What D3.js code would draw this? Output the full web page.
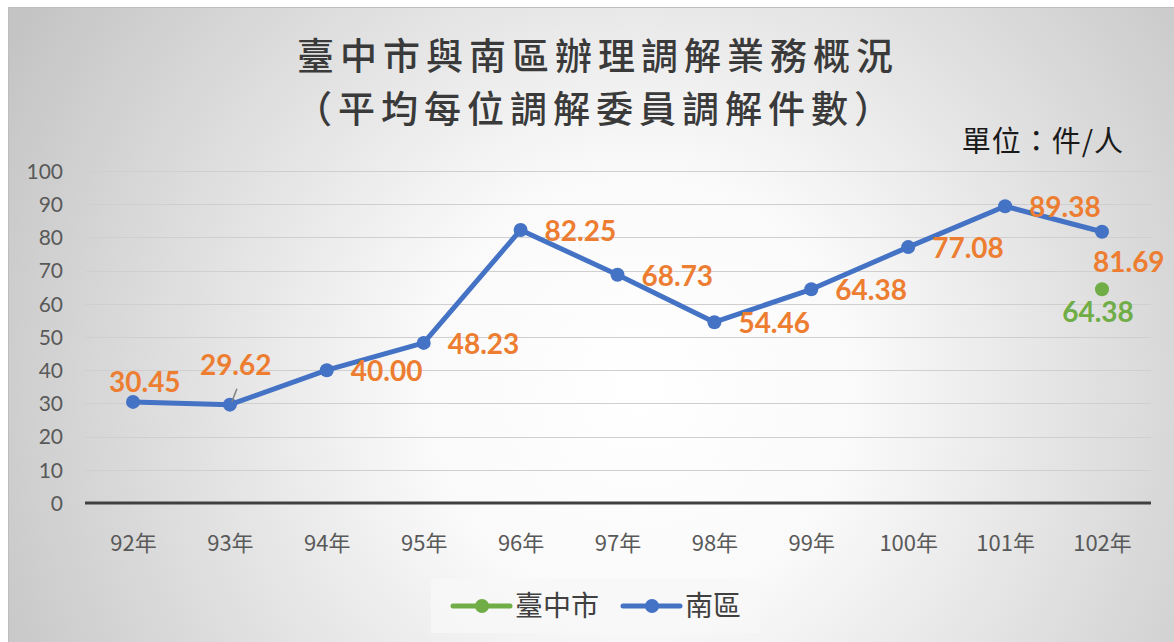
<!DOCTYPE html>
<html>
<head>
<meta charset="utf-8">
<script src="https://cdn.jsdelivr.net/npm/d3@7"></script>
<style>
  html, body { margin: 0; padding: 0; background: #fff; }
  svg { display: block; }
</style>
</head>
<body>
<svg id="chart" width="1174" height="642"></svg>
<script>
// data
const years = ["92年", "93年", "94年", "95年", "96年", "97年", "98年", "99年", "100年", "101年", "102年"];
const southValues = [30.45, 29.62, 40.00, 48.23, 82.25, 68.73, 54.46, 64.38, 77.08, 89.38, 81.69];
const cityValues = [null, null, null, null, null, null, null, null, null, null, 64.38];
const yTicks = [0, 10, 20, 30, 40, 50, 60, 70, 80, 90, 100];
const seriesNames = ["臺中市", "南區"];

const blue = "#4472C4", green = "#70AD47", orange = "#ED7D31";
const numFont = "Lato, 'Noto Sans', sans-serif";
const cjkFont = "'Noto Sans CJK TC', 'Noto Sans', sans-serif";

const svg = d3.select("#chart");
const W = 1174, H = 642;

// background
const defs = svg.append("defs");
const grad = defs.append("radialGradient")
    .attr("id", "bg")
    .attr("gradientUnits", "userSpaceOnUse")
    .attr("cx", 640).attr("cy", 390).attr("r", 720);
grad.append("stop").attr("offset", "0%").attr("stop-color", "#ffffff");
grad.append("stop").attr("offset", "30%").attr("stop-color", "#fafafa");
grad.append("stop").attr("offset", "100%").attr("stop-color", "#c4c4c4");

svg.append("rect").attr("width", W).attr("height", H).attr("fill", "#fff");
svg.append("rect")
    .attr("x", 8.5).attr("y", 7.5)
    .attr("width", W).attr("height", H)
    .attr("fill", "url(#bg)")
    .attr("stroke", "#bdbdbd");

// scales
const x = d3.scalePoint().domain(years).range([133, 1102]);
const y = d3.scaleLinear().domain([0, 100]).range([503, 171]);
const plotLeft = 85, plotRight = 1151;

// grid
svg.append("g").selectAll("line")
    .data(yTicks.filter(d => d > 0))
    .join("line")
    .attr("x1", plotLeft).attr("x2", plotRight)
    .attr("y1", d => Math.round(y(d)) + 0.5).attr("y2", d => Math.round(y(d)) + 0.5)
    .attr("stroke", "#cfcfcf").attr("stroke-width", 1);

// y axis labels
const yAxis = d3.axisLeft(y).tickValues(yTicks).tickSize(0).tickPadding(0);
const gy = svg.append("g").attr("transform", "translate(63,0)").call(yAxis);
gy.select(".domain").remove();
gy.selectAll("text")
    .attr("font-family", numFont).attr("font-size", 21)
    .attr("fill", "#595959").attr("dy", "0.35em");

// zero line
svg.append("line")
    .attr("x1", plotLeft).attr("x2", plotRight)
    .attr("y1", y(0)).attr("y2", y(0))
    .attr("stroke", "#404040").attr("stroke-width", 3);

// x axis labels
const xAxis = d3.axisBottom(x).tickSize(0).tickPadding(0);
const gx = svg.append("g").attr("transform", "translate(0,551)").call(xAxis);
gx.select(".domain").remove();
gx.selectAll("text")
    .attr("font-family", cjkFont).attr("font-size", 22)
    .attr("fill", "#595959").attr("dy", "0");

// line
const line = d3.line()
    .defined(d => d.v != null)
    .x(d => x(d.year))
    .y(d => y(d.v));
const south = years.map((yr, i) => ({ year: yr, v: southValues[i] }));
const city = years.map((yr, i) => ({ year: yr, v: cityValues[i] }));

svg.append("path").datum(south)
    .attr("d", line)
    .attr("fill", "none").attr("stroke", blue)
    .attr("stroke-width", 5).attr("stroke-linejoin", "round").attr("stroke-linecap", "round");

svg.append("g").selectAll("circle")
    .data(south)
    .join("circle")
    .attr("cx", d => x(d.year)).attr("cy", d => y(d.v))
    .attr("r", 7).attr("fill", blue);

svg.append("g").selectAll("circle")
    .data(city.filter(d => d.v != null))
    .join("circle")
    .attr("cx", d => x(d.year)).attr("cy", d => y(d.v))
    .attr("r", 7).attr("fill", green);

// data labels: default to the right of the point, some moved
const labelOffsets = {
    "92年": [-24, -10, "start"],
    "93年": [-30, -30, "start"],
    "102年": [-9, 40, "start"]
};
svg.append("g").selectAll("text")
    .data(south)
    .join("text")
    .attr("x", d => x(d.year) + (labelOffsets[d.year] ? labelOffsets[d.year][0] : 24))
    .attr("y", d => y(d.v) + (labelOffsets[d.year] ? labelOffsets[d.year][1] : 11))
    .attr("font-family", numFont).attr("font-weight", "bold").attr("font-size", 28)
    .attr("fill", orange)
    .text(d => d.v.toFixed(2));

// leader line for 93年
svg.append("line")
    .attr("x1", x("93年") + 2).attr("y1", y(29.62) - 3)
    .attr("x2", x("93年") + 7).attr("y2", y(29.62) - 16)
    .attr("stroke", "#7f7f7f").attr("stroke-width", 1.5);

svg.append("g").selectAll("text")
    .data(city.filter(d => d.v != null))
    .join("text")
    .attr("x", d => x(d.year) - 4)
    .attr("y", d => y(d.v) + 33)
    .attr("text-anchor", "middle")
    .attr("font-family", numFont).attr("font-weight", "bold").attr("font-size", 28)
    .attr("fill", green)
    .text(d => d.v.toFixed(2));

// title
const title = svg.append("g")
    .attr("font-family", cjkFont).attr("font-weight", 500)
    .attr("fill", "#3a3a3a").attr("text-anchor", "middle");
title.append("text").attr("x", 598).attr("y", 70)
    .attr("font-size", 37).attr("letter-spacing", 6)
    .text("臺中市與南區辦理調解業務概況");
title.append("text").attr("x", 596).attr("y", 123)
    .attr("font-size", 37).attr("letter-spacing", 6)
    .text("（平均每位調解委員調解件數）");

svg.append("text")
    .attr("x", 1124).attr("y", 152)
    .attr("text-anchor", "end")
    .attr("font-family", cjkFont).attr("font-size", 29)
    .attr("letter-spacing", 1)
    .attr("fill", "#1a1a1a")
    .text("單位：件/人");

// legend
const legend = svg.append("g");
legend.append("rect")
    .attr("x", 431).attr("y", 579).attr("width", 329).attr("height", 54)
    .attr("fill", "#f7f7f7").attr("opacity", 0.8);
const legendItems = legend.selectAll("g")
    .data(seriesNames)
    .join("g")
    .attr("transform", (d, i) => `translate(${[453, 623][i]},606)`);
legendItems.append("line")
    .attr("x1", 0).attr("x2", 57)
    .attr("stroke", (d, i) => [green, blue][i])
    .attr("stroke-width", 5).attr("stroke-linecap", "round");
legendItems.append("circle")
    .attr("cx", 29).attr("r", 7)
    .attr("fill", (d, i) => [green, blue][i]);
legendItems.append("text")
    .attr("x", 62).attr("dy", "0.36em")
    .attr("font-family", cjkFont).attr("font-size", 28)
    .attr("fill", "#404040")
    .text(d => d);
</script>
</body>
</html>
